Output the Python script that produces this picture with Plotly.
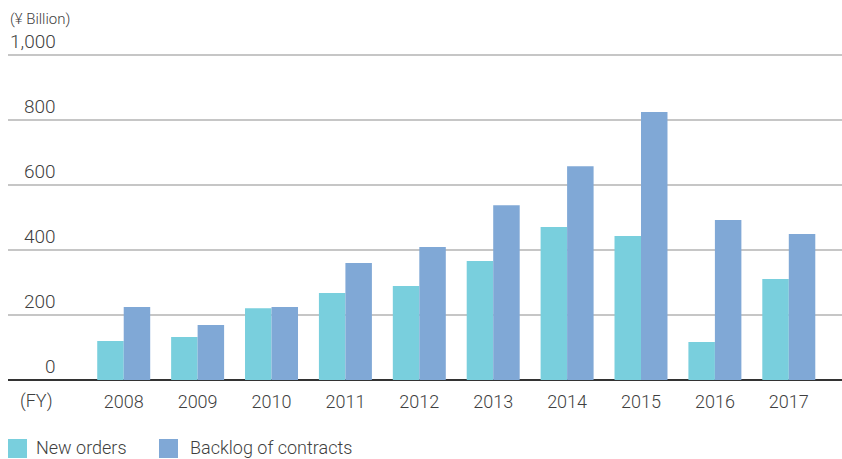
import plotly.graph_objects as go

years = ["2008", "2009", "2010", "2011", "2012", "2013", "2014", "2015", "2016", "2017"]
new_orders = [120, 132, 221, 268, 289, 366, 471, 443, 117, 311]
backlog = [225, 169, 225, 360, 409, 538, 658, 825, 492, 449]
series_names = ["New orders", "Backlog of contracts"]
y_ticks = [0, 200, 400, 600, 800, 1000]
y_tick_labels = ["0", "200", "400", "600", "800", "1,000"]
unit_label = "(¥ Billion)"
fy_label = "(FY)"

C_NEW = "#79cfdd"
C_BACK = "#80a8d6"
TXT = "#3f3f3f"
FONT = "Roboto"

W, H = 842, 459
L, R, T, B = 8, 0, 48, 79
pw = W - L - R
ph = H - T - B

def px_to_paper_x(px):
    return (px - L) / pw

def px_to_paper_y(py):
    return (H - B - py) / ph

fig = go.Figure()
fig.add_trace(go.Bar(x=years, y=new_orders, name=series_names[0],
                     marker=dict(color=C_NEW, line=dict(width=0)), showlegend=False))
fig.add_trace(go.Bar(x=years, y=backlog, name=series_names[1],
                     marker=dict(color=C_BACK, line=dict(width=0)), showlegend=False))

annotations = []
for v, lab in zip(y_ticks, y_tick_labels):
    annotations.append(dict(text=lab, x=px_to_paper_x(58), xref="paper", xanchor="right",
                            y=v, yref="y", yanchor="bottom", yshift=0, showarrow=False,
                            font=dict(family=FONT, size=19, color=TXT, weight=300)))
annotations.append(dict(text=unit_label, x=0, xref="paper", xanchor="left",
                        y=px_to_paper_y(19), yref="paper", yanchor="middle", showarrow=False,
                        font=dict(family=FONT, size=15, color=TXT, weight=300)))
annotations.append(dict(text=fy_label, x=px_to_paper_x(36), xref="paper", xanchor="center",
                        y=px_to_paper_y(401), yref="paper", yanchor="middle", showarrow=False,
                        font=dict(family=FONT, size=18, color=TXT, weight=300)))

shapes = []
legend_items = [(8, 34, C_NEW, series_names[0]), (159, 188, C_BACK, series_names[1])]
for sx, tx, col, name in legend_items:
    shapes.append(dict(type="rect", xref="paper", yref="paper",
                       x0=px_to_paper_x(sx), x1=px_to_paper_x(sx + 19),
                       y0=px_to_paper_y(458), y1=px_to_paper_y(439),
                       fillcolor=col, line=dict(width=0)))
    annotations.append(dict(text=name, x=px_to_paper_x(tx), xref="paper", xanchor="left",
                            y=px_to_paper_y(448), yref="paper", yanchor="middle", showarrow=False,
                            font=dict(family=FONT, size=18, color=TXT, weight=300)))

fig.update_layout(
    width=W, height=H,
    margin=dict(l=L, r=R, t=T, b=B, pad=0),
    paper_bgcolor="white", plot_bgcolor="white",
    barmode="group", bargap=0.283, bargroupgap=0,
    font=dict(family=FONT, color=TXT),
    annotations=annotations, shapes=shapes,
    showlegend=False,
)
fig.update_xaxes(type="category", range=[-1.566, 9.72], showgrid=False, ticks="",
                 showline=False, tickfont=dict(family=FONT, size=18, color=TXT, weight=300),
                 ticklabelstandoff=9, fixedrange=True)
fig.update_yaxes(range=[0, ph / 0.325], tickvals=y_ticks, showticklabels=False,
                 showgrid=True, gridcolor="#c6c6c6", gridwidth=1.5,
                 zeroline=True, zerolinecolor="#333333", zerolinewidth=1.5,
                 showline=False, ticks="", fixedrange=True)

fig.write_html("out.html", config={"displayModeBar": False},
               post_script="document.body.style.margin='0';document.body.style.overflow='hidden';")
